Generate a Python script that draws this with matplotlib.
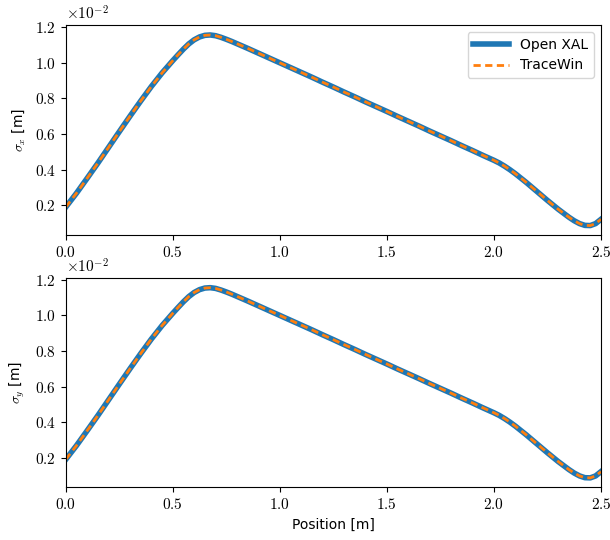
import matplotlib
matplotlib.use("Agg")
import matplotlib.pyplot as plt
from matplotlib.ticker import FuncFormatter

plt.rcParams['mathtext.fontset'] = 'cm'
plt.rcParams['font.family'] = ['DejaVu Sans']

# Position [m]
position = [0.000, 0.050, 0.100, 0.150, 0.200, 0.250, 0.300, 0.350, 0.400, 0.450,
            0.500, 0.525, 0.550, 0.575, 0.600, 0.625, 0.650, 0.675, 0.700, 0.725,
            0.750, 0.775, 0.800, 0.850, 0.900, 0.950,
            1.000, 1.050, 1.100, 1.150, 1.200, 1.250, 1.300, 1.350, 1.400, 1.450,
            1.500, 1.550, 1.600, 1.650, 1.700, 1.750, 1.800, 1.850, 1.900, 1.950,
            2.000, 2.025, 2.050, 2.075, 2.100, 2.150, 2.200, 2.250, 2.300, 2.350,
            2.375, 2.400, 2.425, 2.450, 2.475, 2.500]

# sigma_x in units of 1e-2 m
sigma_x_openxal = [0.190, 0.268, 0.352, 0.437, 0.525, 0.613, 0.700, 0.785, 0.867, 0.943,
                   1.012, 1.045, 1.077, 1.106, 1.129, 1.145, 1.154, 1.156, 1.152, 1.143,
                   1.132, 1.120, 1.107, 1.081, 1.054, 1.027,
                   1.000, 0.973, 0.946, 0.919, 0.891, 0.864, 0.836, 0.809, 0.781, 0.754,
                   0.727, 0.699, 0.672, 0.645, 0.617, 0.590, 0.563, 0.535, 0.508, 0.480,
                   0.453, 0.438, 0.420, 0.400, 0.378, 0.330, 0.279, 0.228, 0.179, 0.134,
                   0.114, 0.098, 0.088, 0.087, 0.098, 0.122]
sigma_x_tracewin = list(sigma_x_openxal)

# sigma_y in units of 1e-2 m
sigma_y_openxal = [0.190, 0.268, 0.352, 0.437, 0.525, 0.613, 0.700, 0.785, 0.867, 0.943,
                   1.012, 1.045, 1.077, 1.106, 1.129, 1.145, 1.154, 1.156, 1.152, 1.143,
                   1.132, 1.120, 1.107, 1.081, 1.054, 1.027,
                   1.000, 0.973, 0.946, 0.919, 0.891, 0.864, 0.836, 0.809, 0.781, 0.754,
                   0.727, 0.699, 0.672, 0.645, 0.617, 0.590, 0.563, 0.535, 0.508, 0.480,
                   0.453, 0.438, 0.420, 0.400, 0.378, 0.330, 0.279, 0.228, 0.179, 0.134,
                   0.114, 0.098, 0.088, 0.087, 0.098, 0.122]
sigma_y_tracewin = list(sigma_y_openxal)

x_ticks = [0.0, 0.5, 1.0, 1.5, 2.0, 2.5]
y_ticks = [0.2, 0.4, 0.6, 0.8, 1.0, 1.2]

fig = plt.figure(figsize=(6.1, 5.4), dpi=100)
ax1 = fig.add_axes([0.1077, 0.5648, 0.8775, 0.3889])
ax2 = fig.add_axes([0.1077, 0.0976, 0.8775, 0.3881])

blue = '#1f77b4'
orange = '#ff7f0e'

fmt = FuncFormatter(lambda v, p: r'$%.1f$' % v)

for ax, ox, tw, lab in [(ax1, sigma_x_openxal, sigma_x_tracewin, r'$\sigma_x$ [m]'),
                        (ax2, sigma_y_openxal, sigma_y_tracewin, r'$\sigma_y$ [m]')]:
    ax.plot(position, ox, color=blue, lw=4, label='Open XAL')
    ax.plot(position, tw, color=orange, lw=2, ls='--', dashes=(2.6, 1.6), label='TraceWin')
    ax.set_xlim(0, 2.5)
    ax.set_ylim(0.034, 1.212)
    ax.set_xticks(x_ticks)
    ax.set_yticks(y_ticks)
    ax.xaxis.set_major_formatter(fmt)
    ax.yaxis.set_major_formatter(fmt)
    ax.tick_params(labelsize=11)
    ax.set_ylabel(lab, fontsize=10, labelpad=6)
    ax.text(0.0, 1.01, r'$\times10^{-2}$', transform=ax.transAxes, fontsize=11,
            ha='left', va='bottom')

ax1.legend(loc='upper right', fontsize=10, handlelength=2.6, fancybox=True,
           framealpha=0.8, edgecolor='#cccccc')
ax2.set_xlabel('Position [m]', fontsize=10)

fig.savefig('out.png', dpi=100)
